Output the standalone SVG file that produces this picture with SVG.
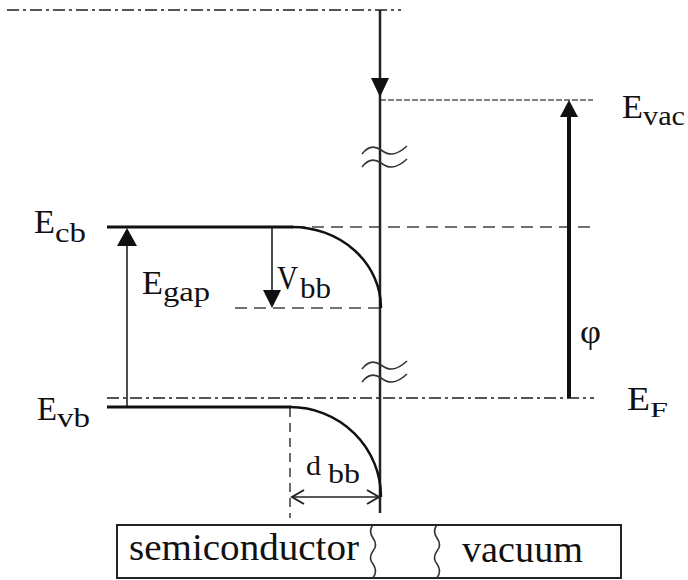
<svg xmlns="http://www.w3.org/2000/svg" width="688" height="580" viewBox="0 0 688 580">
<style>
text{font-family:'Liberation Serif','Times New Roman',serif;fill:#111}
.m{font-size:33px}
.s{font-size:27px}
.thick{stroke:#111;stroke-width:3;fill:none}
.thin{stroke:#222;stroke-width:1.6;fill:none}
.dash{stroke:#444;stroke-width:1.6;fill:none;stroke-dasharray:12 7}
.dd{stroke:#555;stroke-width:2;fill:none;stroke-dasharray:12 4 3 4}
.fine{stroke:#555;stroke-width:1.4;fill:none;stroke-dasharray:6 2}
.ah{fill:#111;stroke:none}
.brk{stroke:#333;stroke-width:1.6;fill:none}
</style>
<rect width="688" height="580" fill="#fff"/>
<g id="connectors">
<line class="dd" x1="7" y1="10" x2="401" y2="10"/>
<line class="fine" x1="380" y1="100" x2="593" y2="100"/>
<line class="dash" x1="293" y1="227" x2="597" y2="227"/>
<line class="dash" x1="235" y1="308" x2="380" y2="308"/>
<line class="dd" x1="107" y1="398" x2="594" y2="398"/>
<line class="dash" x1="290" y1="408" x2="290" y2="518" style="stroke-dasharray:9 6"/>
<line x1="380" y1="10" x2="380" y2="513" stroke="#222" stroke-width="2.5"/>
<polygon class="ah" points="371,78 389,78 380,97"/>
<line x1="569" y1="398" x2="569" y2="112" stroke="#111" stroke-width="4"/>
<polygon class="ah" points="560,117 578,117 569,100"/>
<line class="thin" x1="127" y1="407" x2="127" y2="240"/>
<polygon class="ah" points="117,246 137,246 127,228"/>
<line class="thin" x1="272" y1="227" x2="272" y2="294"/>
<polygon class="ah" points="263,290 281,290 272,308"/>
<line class="thin" x1="292" y1="497" x2="379" y2="497"/>
<polyline class="thin" points="304,490 292,497 304,504" style="stroke-width:2"/>
<polyline class="thin" points="367,490 379,497 367,504" style="stroke-width:2"/>
<path class="brk" d="M362,154 C368,146 374,145 381,150 S395,157 407,146"/>
<path class="brk" d="M362,167 C368,159 374,158 381,163 S395,170 407,159"/>
<path class="brk" d="M362,369 C368,361 374,360 381,365 S395,372 407,361"/>
<path class="brk" d="M362,382 C368,374 374,373 381,378 S395,385 407,374"/>
</g>
<g id="conduction-band">
<line class="thick" x1="107" y1="227" x2="293" y2="227"/>
<path d="M292,227 A89 81 0 0 1 381 308" stroke="#111" stroke-width="2.5" fill="none"/>
</g>
<g id="valence-band">
<line class="thick" x1="107" y1="407" x2="291" y2="407"/>
<path d="M290,407 A91 90 0 0 1 381 497" stroke="#111" stroke-width="2.5" fill="none"/>
</g>
<g id="labels">
<text class="m" x="34" y="233" textLength="21" lengthAdjust="spacingAndGlyphs">E</text>
<text class="s" x="55" y="242" textLength="31" lengthAdjust="spacingAndGlyphs">cb</text>
<text class="m" x="37" y="420" textLength="20" lengthAdjust="spacingAndGlyphs">E</text>
<text class="s" x="57" y="427" textLength="33" lengthAdjust="spacingAndGlyphs">vb</text>
<text class="m" x="142" y="294" textLength="21" lengthAdjust="spacingAndGlyphs">E</text>
<text class="s" x="163" y="301" textLength="47" lengthAdjust="spacingAndGlyphs">gap</text>
<text class="m" x="277" y="289" textLength="21" lengthAdjust="spacingAndGlyphs">V</text>
<text class="s" x="300" y="298" textLength="31" lengthAdjust="spacingAndGlyphs" style="font-size:29px">bb</text>
<text class="m" x="622" y="118" textLength="21" lengthAdjust="spacingAndGlyphs">E</text>
<text class="s" x="643" y="125" textLength="42" lengthAdjust="spacingAndGlyphs">vac</text>
<text class="m" x="627" y="410" textLength="23" lengthAdjust="spacingAndGlyphs">E</text>
<text x="650" y="417" textLength="18" lengthAdjust="spacingAndGlyphs" style="font-size:21px">F</text>
<text class="m" x="580" y="343" textLength="21" lengthAdjust="spacingAndGlyphs">φ</text>
<text x="306" y="475" textLength="15" lengthAdjust="spacingAndGlyphs" style="font-size:28px">d</text>
<text class="s" x="328" y="483" textLength="32" lengthAdjust="spacingAndGlyphs">bb</text>
</g>
<g id="material-bar">
<rect x="117" y="525" width="504" height="53" fill="none" stroke="#222" stroke-width="2"/>
<path class="brk" d="M373,525 q-5,6 0,13 q5,7 0,13 q-5,7 0,13 q5,7 0,14"/>
<path class="brk" d="M437,525 q-5,6 0,13 q5,7 0,13 q-5,7 0,13 q5,7 0,14"/>
<text x="129" y="560" textLength="230" lengthAdjust="spacingAndGlyphs" style="font-size:38px">semiconductor</text>
<text x="462" y="562" textLength="121" lengthAdjust="spacingAndGlyphs" style="font-size:38px">vacuum</text>
</g>
</svg>
